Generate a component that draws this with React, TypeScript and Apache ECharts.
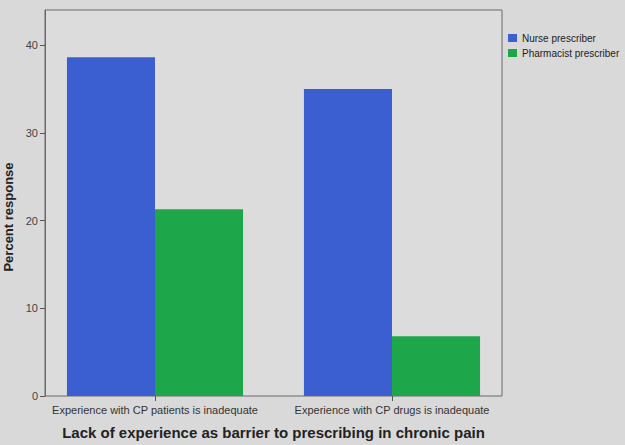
import React, { useEffect, useRef } from "react";
import * as echarts from "echarts";

const categories = [
  "Experience with CP patients is inadequate",
  "Experience with CP drugs is inadequate",
];
const seriesNames = ["Nurse prescriber", "Pharmacist prescriber"];
const nurseValues = [38.6, 35.0];
const pharmacistValues = [21.3, 6.8];
const yTicks = [0, 10, 20, 30, 40];
const xTitle = "Lack of experience as barrier to prescribing in chronic pain";
const yTitle = "Percent response";

const FONT = "'Liberation Sans', Arial, sans-serif";

export default function App() {
  const ref = useRef<HTMLDivElement>(null);
  useEffect(() => {
    if (!ref.current) return;
    const chart = echarts.init(ref.current, undefined, { renderer: "svg" });
    chart.setOption({
      animation: false,
      backgroundColor: "#d9d9d9",
      textStyle: { fontFamily: FONT },
      legend: {
        orient: "vertical",
        left: 503,
        top: 28,
        itemWidth: 9,
        itemHeight: 8,
        itemGap: 5,
        icon: "rect",
        textStyle: { fontSize: 10, color: "#222", fontFamily: FONT },
        data: seriesNames,
      },
      grid: [
        {
          left: 45,
          top: 10,
          width: 457,
          height: 386,
          show: true,
          borderColor: "#6a6a6a",
          borderWidth: 1,
          backgroundColor: "#dcdcdc",
          outerBoundsMode: "none",
          containLabel: false,
        },
        {
          left: 36.5,
          top: 10,
          width: 474,
          height: 386,
          outerBoundsMode: "none",
          containLabel: false,
        },
      ],
      xAxis: [
        { gridIndex: 0, type: "category", data: categories, show: false },
        {
          gridIndex: 1,
          type: "category",
          data: categories,
          axisLine: { show: false },
          axisTick: {
            show: true,
            alignWithLabel: true,
            length: 5,
            lineStyle: { color: "#555" },
          },
          axisLabel: { interval: 0, fontSize: 11, color: "#333", margin: 8, fontFamily: FONT },
          name: xTitle,
          nameLocation: "middle",
          nameGap: 29,
          nameTextStyle: { fontSize: 15, fontWeight: "bold", color: "#222", fontFamily: FONT },
        },
      ],
      yAxis: [
        {
          gridIndex: 0,
          type: "value",
          min: 0,
          max: 44,
          axisLine: { show: true, lineStyle: { color: "#6a6a6a" } },
          axisTick: { show: true, length: 5, customValues: yTicks, lineStyle: { color: "#555" } },
          axisLabel: { fontSize: 11, color: "#444", margin: 7, customValues: yTicks, fontFamily: FONT },
          splitLine: { show: false },
          name: yTitle,
          nameLocation: "middle",
          nameGap: 28,
          nameTextStyle: {
            fontSize: 13,
            fontWeight: "bold",
            color: "#222",
            fontFamily: FONT,
            padding: [0, 28, 0, 0],
          },
        },
        { gridIndex: 1, type: "value", min: 0, max: 44, show: false },
      ],
      series: [
        {
          name: seriesNames[0],
          type: "bar",
          xAxisIndex: 1,
          yAxisIndex: 1,
          data: nurseValues,
          barGap: "0%",
          barCategoryGap: "25.7%",
          itemStyle: { color: "#3b5fd0" },
        },
        {
          name: seriesNames[1],
          type: "bar",
          xAxisIndex: 1,
          yAxisIndex: 1,
          data: pharmacistValues,
          barGap: "0%",
          barCategoryGap: "25.7%",
          itemStyle: { color: "#1ea64a" },
        },
      ],
    });
    return () => chart.dispose();
  }, []);
  return (
    <div
      ref={ref}
      style={{ position: "fixed", left: 0, top: 0, width: 625, height: 445 }}
    />
  );
}
